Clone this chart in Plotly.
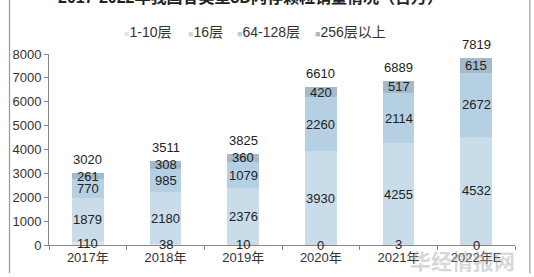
import plotly.graph_objects as go

years = ["2017年", "2018年", "2019年", "2020年", "2021年", "2022年E"]
s_1_10 = [110, 38, 10, 0, 3, 0]
s_16 = [1879, 2180, 2376, 3930, 4255, 4532]
s_64_128 = [770, 985, 1079, 2260, 2114, 2672]
s_256 = [261, 308, 360, 420, 517, 615]
totals = [3020, 3511, 3825, 6610, 6889, 7819]
series_names = ["1-10层", "16层", "64-128层", "256层以上"]
colors = ["#dce7ef", "#c9dcea", "#b6d0e3", "#a5bac9"]
y_ticks = [0, 1000, 2000, 3000, 4000, 5000, 6000, 7000, 8000]

W, H = 534, 277
ML, MR, MT, MB = 43, 19, 54, 27
PW = W - ML - MR
PH = H - MT - MB

FONT = "Liberation Sans, Noto Sans CJK SC"

fig = go.Figure()
series = [s_1_10, s_16, s_64_128, s_256]
for name, vals, col in zip(series_names, series, colors):
    fig.add_trace(go.Bar(x=years, y=vals, name=name, marker_color=col,
                         marker_line_width=0, showlegend=False))

annotations = []
base = [0] * len(years)
for vals in series:
    for i, v in enumerate(vals):
        annotations.append(dict(x=years[i], y=base[i] + v / 2, text=str(v),
                                showarrow=False, xref="x", yref="y",
                                font=dict(size=13, color="#222", family=FONT)))
        base[i] += v
for i, t in enumerate(totals):
    annotations.append(dict(x=years[i], y=t, text=str(t), showarrow=False,
                            xref="x", yref="y", yanchor="bottom", yshift=4,
                            font=dict(size=13, color="#222", family=FONT)))

leg_x = [117, 182, 231, 310]
for name, col, px in zip(series_names, colors, leg_x):
    annotations.append(dict(
        x=(px - ML) / PW, y=(H - MB - 31) / PH, xref="paper", yref="paper",
        xanchor="left", yanchor="middle", showarrow=False,
        text=f"<span style='color:{col};font-size:9px'>■</span>{name}",
        font=dict(size=14, color="#333", family=FONT)))

annotations.append(dict(
    x=(247 - ML) / PW, y=(H - MB + 4) / PH, xref="paper", yref="paper",
    xanchor="center", yanchor="middle", showarrow=False,
    text="<b>2017-2022年我国各类型3D闪存颗粒销量情况（百万）</b>",
    font=dict(size=16, color="#222", family=FONT)))

annotations.append(dict(
    x=(462 - ML) / PW, y=(H - MB - 265) / PH, xref="paper", yref="paper",
    xanchor="center", yanchor="middle", showarrow=False,
    text="<b>华经情报网</b>",
    font=dict(size=21, color="rgba(165,165,165,0.45)", family="Noto Sans CJK SC")))

shapes = []
for px in [3, 530]:
    xp = (px - ML) / PW
    shapes.append(dict(type="line", xref="paper", yref="paper",
                       x0=xp, x1=xp, y0=-MB / PH - 0.01, y1=(PH + MT) / PH + 0.01,
                       line=dict(color="#999", width=1.2)))

fig.update_layout(
    width=W, height=H,
    margin=dict(l=ML, r=MR, t=MT, b=MB),
    barmode="stack", bargap=0.59,
    plot_bgcolor="white", paper_bgcolor="white",
    annotations=annotations, shapes=shapes,
    font=dict(family=FONT, size=12, color="#333"),
    xaxis=dict(showline=True, linecolor="#888", linewidth=1,
               ticks="outside", tickson="boundaries", ticklen=4, tickcolor="#888",
               tickfont=dict(size=13, color="#333"), showgrid=False, fixedrange=True),
    yaxis=dict(range=[0, 8000], tickvals=y_ticks, showline=True, linecolor="#888",
               linewidth=1, ticks="outside", ticklen=4, tickcolor="#888",
               tickfont=dict(size=13, color="#333"), showgrid=False, zeroline=False,
               fixedrange=True),
)

fig.write_html("out.html", config={"displayModeBar": False})
